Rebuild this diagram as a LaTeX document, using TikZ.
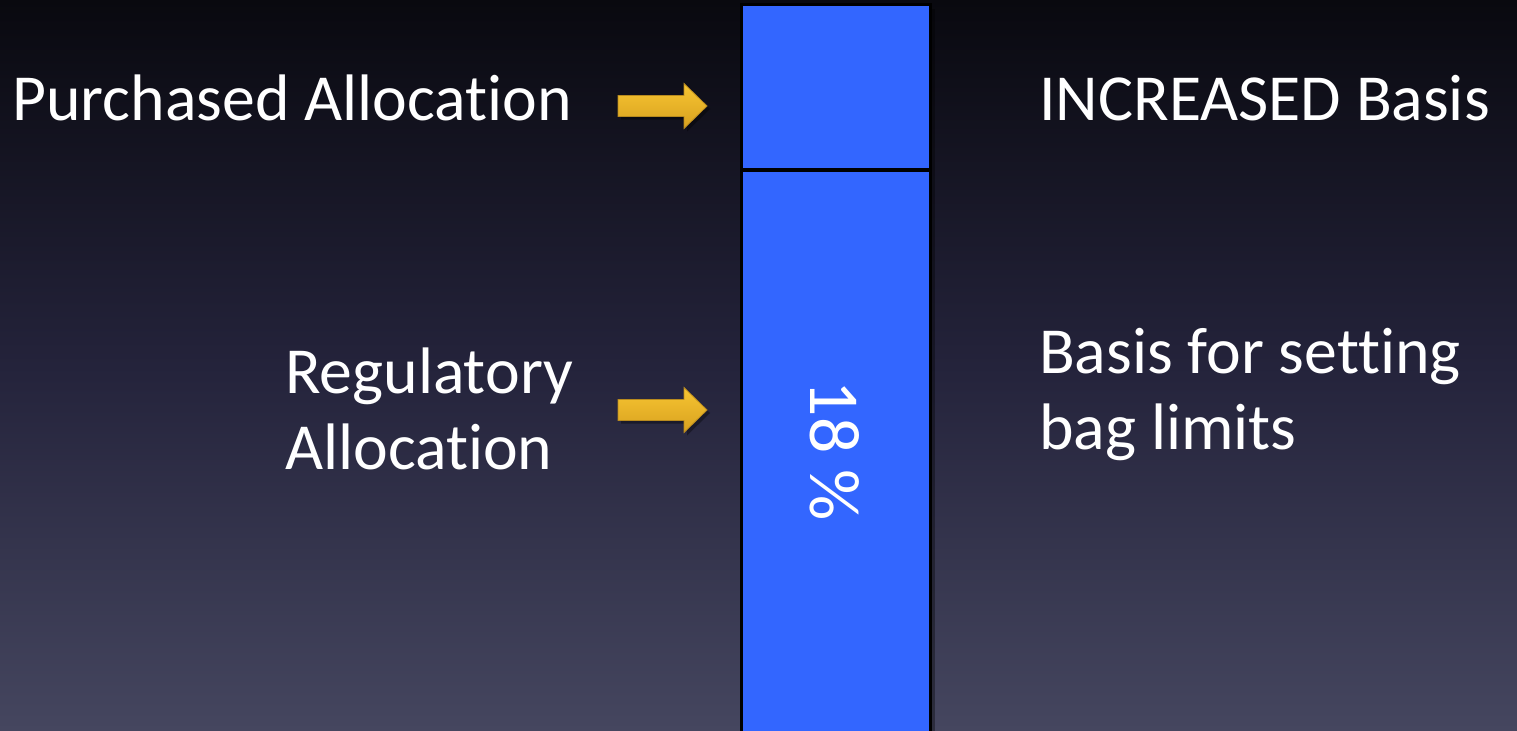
\documentclass[tikz,border=0pt]{standalone}
\usepackage{fontspec}
\setmainfont{Carlito}[Ligatures=NoCommon]
\usepackage{xcolor}
\usepackage{tikz}

\definecolor{bgtop}{HTML}{09090F}
\definecolor{bgmid}{HTML}{24233B}
\definecolor{bgbot}{HTML}{45465F}
\definecolor{barblue}{HTML}{3366FF}
\definecolor{goldtop}{HTML}{F7C532}
\definecolor{goldbot}{HTML}{D8A11F}
\definecolor{goldedge}{HTML}{B88A1E}

\begin{document}
\begin{tikzpicture}[x=1bp,y=-1bp,
    label/.style={text=white,inner sep=0pt,anchor=base west,align=left,
        font=\fontsize{66}{76}\selectfont},
    barbox/.style={fill=barblue,draw=black,line width=3bp},
    goldarrow/.style={top color=goldtop,bottom color=goldbot,draw=goldedge,line width=0.8bp}]
    \useasboundingbox (0,0) rectangle (1517,731);
    \clip (0,0) rectangle (1517,731);
    \shade[top color=bgtop,bottom color=bgbot,middle color=bgmid] (0,0) rectangle (1517,731);

    % the bar
    \fill[black,opacity=0.35] (745,9) rectangle (935,740);
    \draw[barbox] (741,5) rectangle (930,169);
    \draw[barbox] (741,170) rectangle (930,740);
    \node[text=white,rotate=-90,inner sep=0pt,font=\fontsize{72}{72}\selectfont]
        (pct) at (835,451) {18 \%};

    % arrows
    \foreach \y in {106,410} {
        \fill[black,opacity=0.35] (621,\y-7.5) -- (687,\y-7.5) -- (687,\y-19.5) -- (710,\y+3)
            -- (687,\y+25.5) -- (687,\y+13.5) -- (621,\y+13.5) -- cycle;
        \draw[goldarrow] (618,\y-10.5) -- (684,\y-10.5) -- (684,\y-22.5) -- (707,\y)
            -- (684,\y+22.5) -- (684,\y+10.5) -- (618,\y+10.5) -- cycle;
    }

    % texts (base = last line)
    \node[label] (purchased) at (12,121) {Purchased Allocation};
    \node[label] (increased) at (1039,121) {INCREASED Basis};
    \node[label] (regulatory) at (285,469) {Regulatory\\Allocation};
    \node[label] (basis) at (1039,449) {Basis for setting\\bag limits};
\end{tikzpicture}
\end{document}
